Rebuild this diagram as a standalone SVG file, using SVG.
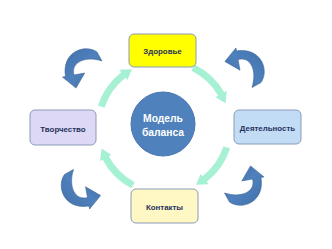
<svg xmlns="http://www.w3.org/2000/svg" xmlns:xlink="http://www.w3.org/1999/xlink" width="332" height="249" viewBox="0 0 332 249">
  <style>
    .box { stroke: #8A9BB8; stroke-width: 1; }
    .lbl { font-family: "Liberation Sans", Arial, sans-serif; font-weight: bold; font-size: 7.9px; fill: #26325E; text-anchor: middle; }
    .ctr { font-family: "Liberation Sans", Arial, sans-serif; font-weight: bold; font-size: 10.3px; fill: #FFFFFF; text-anchor: middle; }
    .cyc { fill: #A6F1D3; }
    .blu { fill: url(#bg); stroke: #3A6596; stroke-width: 0.6; }
  </style>
  <defs>
    <linearGradient id="bg" x1="0" y1="0" x2="1" y2="1">
      <stop offset="0" stop-color="#3F6FA8"/>
      <stop offset="0.5" stop-color="#4F81BD"/>
      <stop offset="1" stop-color="#3A679E"/>
    </linearGradient>
    <path id="arc" d="M 97.90,105.52 A 69.5 69.5 0 0 1 121.21,72.23 L 119.36,69.87 L 132.0,69.28 L 127.37,80.11 L 125.52,77.75 A 62.5 62.5 0 0 0 104.56,107.69 Z"/>
    <path id="curv" d="M 13.5,-16.5 C 1.5,-25 -22,-17 -18,8 L -21,8.6 L -7.5,19.6 L 1.2,4.5 L -9.5,6.5 C -13,-6 1.5,-13 18.5,-7.5 Z"/>
  </defs>
  <rect width="332" height="249" fill="#FFFFFF"/>
  <g id="connectors">
    <use xlink:href="#arc" href="#arc" class="cyc"/>
    <use xlink:href="#arc" href="#arc" class="cyc" transform="rotate(98 164 127)"/>
    <use xlink:href="#arc" href="#arc" class="cyc" transform="rotate(180 164 127)"/>
    <use xlink:href="#arc" href="#arc" class="cyc" transform="rotate(280 164 127)"/>
    <use xlink:href="#curv" href="#curv" class="blu" transform="translate(83.5 68.5)"/>
    <use xlink:href="#curv" href="#curv" class="blu" transform="translate(244.5 69) rotate(90)"/>
    <use xlink:href="#curv" href="#curv" class="blu" transform="translate(243 185.5) rotate(180)"/>
    <use xlink:href="#curv" href="#curv" class="blu" transform="translate(81 188) rotate(270)"/>
  </g>
  <g id="center">
    <circle cx="163" cy="124" r="32" fill="#4F81BD" stroke="#4777B2" stroke-width="1"/>
    <text class="ctr" x="163" y="122">Модель</text>
    <text class="ctr" x="163" y="135.5">баланса</text>
  </g>
  <g id="zdorovye">
    <rect class="box" x="129" y="34" width="67" height="33" rx="5" fill="#FFFF00"/>
    <text class="lbl" x="162.5" y="54">Здоровье</text>
  </g>
  <g id="tvorchestvo">
    <rect class="box" x="30" y="110" width="66" height="35" rx="5" fill="#DDD9F4"/>
    <text class="lbl" x="63" y="131.5">Творчество</text>
  </g>
  <g id="deyatelnost">
    <rect class="box" x="234" y="110" width="67" height="34" rx="5" fill="#C3DCF6"/>
    <text class="lbl" x="267.5" y="131">Деятельность</text>
  </g>
  <g id="kontakty">
    <rect class="box" x="131" y="189" width="67" height="34" rx="5" fill="#FFF8C4"/>
    <text class="lbl" x="164.5" y="210">Контакты</text>
  </g>
</svg>
